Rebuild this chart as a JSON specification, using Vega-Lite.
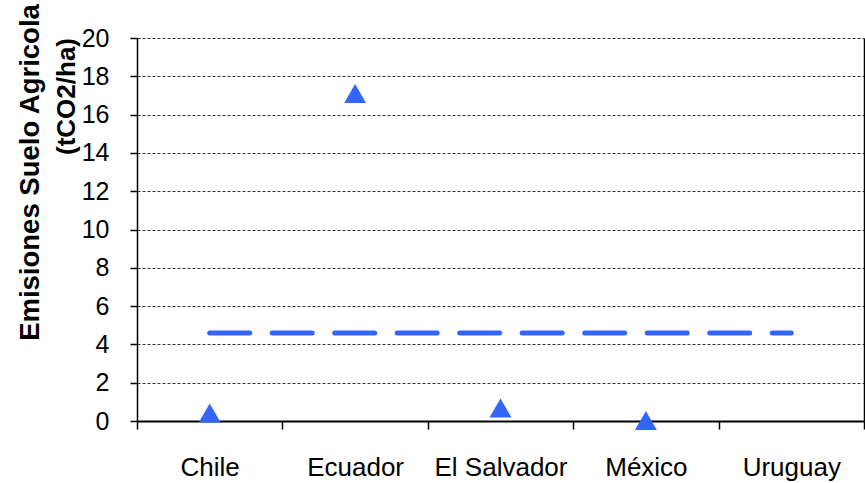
{
  "$schema": "https://vega.github.io/schema/vega-lite/v6.json",
  "width": 727,
  "height": 383,
  "autosize": {"type": "none"},
  "padding": {"left": 137, "top": 38, "right": 1, "bottom": 62},
  "background": "white",
  "config": {"view": {"stroke": null}, "font": "Liberation Sans"},
  "data": {
    "values": [
      {"pais": "Chile", "emisiones": 0.42, "promedio": 4.6},
      {"pais": "Ecuador", "emisiones": 17.1, "promedio": 4.6},
      {"pais": "El Salvador", "emisiones": 0.68, "promedio": 4.6},
      {"pais": "México", "emisiones": 0.03, "promedio": 4.6},
      {"pais": "Uruguay", "emisiones": null, "promedio": 4.6}
    ]
  },
  "encoding": {
    "x": {
      "field": "pais",
      "type": "nominal",
      "sort": null,
      "scale": {"paddingInner": 0, "paddingOuter": 0},
      "axis": {
        "title": null,
        "orient": "bottom",
        "tickBand": "extent",
        "tickSize": 8,
        "tickColor": "#000000",
        "tickWidth": 1.5,
        "domainColor": "#000000",
        "domainWidth": 2,
        "grid": false,
        "labelAngle": 0,
        "labelFontSize": 26,
        "labelColor": "#000000",
        "labelPadding": 25
      }
    }
  },
  "layer": [
    {
      "mark": {
        "type": "line",
        "color": "#3366ff",
        "strokeWidth": 5,
        "strokeDash": [40, 22.5],
        "strokeCap": "round"
      },
      "encoding": {
        "y": {
          "field": "promedio",
          "type": "quantitative",
          "scale": {"domain": [0, 20], "nice": false},
          "axis": {
            "orient": "right",
            "domain": true,
            "domainColor": "#000000",
            "domainWidth": 1.5,
            "ticks": false,
            "labels": false,
            "grid": false,
            "title": "Emisiones Suelo Agricola",
            "titleFontSize": 27.5,
            "titleFontWeight": "bold",
            "titleColor": "#000000",
            "titleAngle": -90,
            "titleAlign": "center",
            "titleBaseline": "alphabetic",
            "titleX": -826,
            "titleY": 134
          }
        }
      }
    },
    {
      "mark": {
        "type": "point",
        "shape": "triangle-up",
        "filled": true,
        "color": "#3366ff",
        "opacity": 1,
        "size": 480
      },
      "encoding": {
        "y": {
          "field": "emisiones",
          "type": "quantitative",
          "scale": {"domain": [0, 20], "nice": false},
          "axis": {
            "orient": "left",
            "values": [0, 2, 4, 6, 8, 10, 12, 14, 16, 18, 20],
            "tickSize": 7,
            "tickColor": "#000000",
            "tickWidth": 1.5,
            "domainColor": "#000000",
            "domainWidth": 1.5,
            "grid": true,
            "gridColor": "#333333",
            "gridDash": [3, 2],
            "gridWidth": 1,
            "gridOpacity": 1,
            "labelFontSize": 25,
            "labelColor": "#000000",
            "labelPadding": 21,
            "title": "(tCO2/ha)",
            "titleFontSize": 26,
            "titleFontWeight": "bold",
            "titleColor": "#000000",
            "titleAngle": -90,
            "titleAlign": "center",
            "titleBaseline": "alphabetic",
            "titleX": -63,
            "titleY": 58
          }
        }
      }
    }
  ],
  "resolve": {"scale": {"y": "independent"}, "axis": {"y": "independent"}}
}
